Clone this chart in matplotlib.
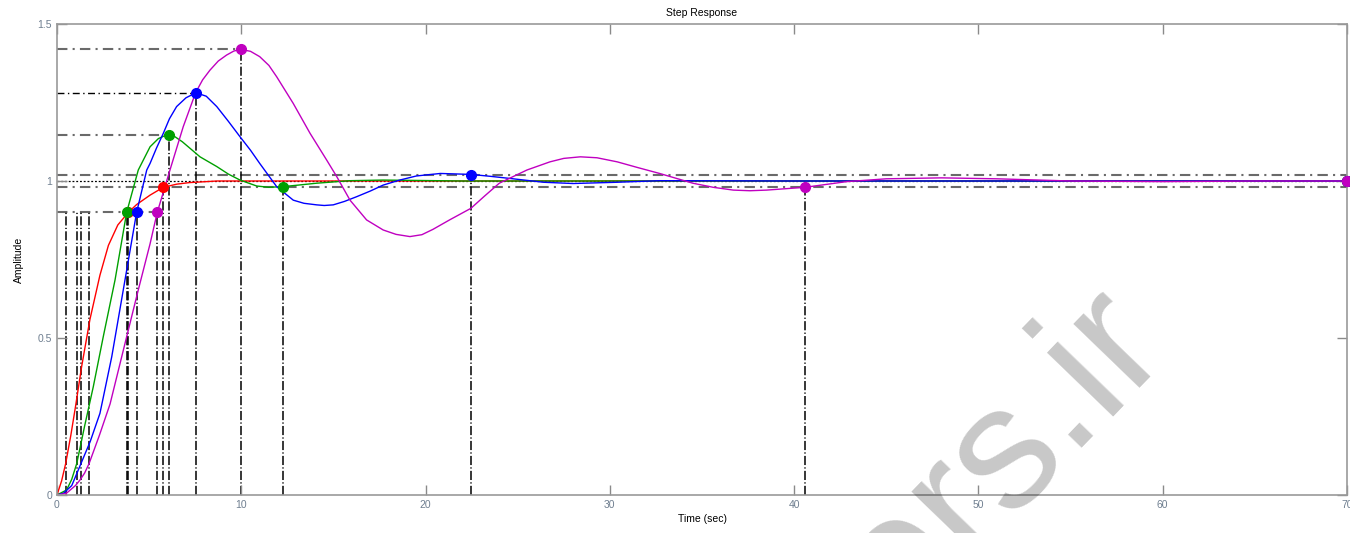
import matplotlib
matplotlib.use('Agg')
import matplotlib.pyplot as plt

plt.rcParams['font.family'] = ['Liberation Sans', 'DejaVu Sans']

# step response samples (time in sec, amplitude)
t_red = [0, 0.25, 0.47, 0.75, 1.0, 1.34, 1.79, 2.33, 2.79, 3.3, 3.87, 4.32, 5.05, 5.77, 6.5, 7.2, 8.7, 12, 20, 70]
y_red = [0, 0.045, 0.10, 0.19, 0.28, 0.41, 0.56, 0.70, 0.795, 0.86, 0.90, 0.925, 0.955, 0.98, 0.99, 0.995, 1.0, 1.0, 1.0, 1.0]

t_green = [0, 0.52, 0.8, 1.07, 1.5, 1.97, 2.51, 3.15, 3.78, 4.41, 5.05, 5.5, 5.8, 6.08, 6.4, 6.8, 7.3, 7.76, 8.67, 9.3, 9.93,
           10.84, 11.5, 12.25, 13.1, 14.09, 15.9, 17.7, 22, 70]
y_green = [0, 0.016, 0.05, 0.10, 0.22, 0.345, 0.504, 0.685, 0.90, 1.035, 1.109, 1.135, 1.143, 1.146, 1.141, 1.125, 1.10, 1.077, 1.046, 1.022, 1.003,
           0.984, 0.980, 0.982, 0.987, 0.993, 1.001, 1.003, 1.0, 1.0]

t_blue = [0, 0.34, 0.8, 1.3, 1.8, 2.33, 2.97, 3.69, 4.32, 4.87, 5.05, 5.4, 5.77, 6.1, 6.49, 7.0, 7.54, 8.1, 8.67, 9.3, 9.93, 10.5, 11.0,
          11.92, 12.82, 13.4, 14.09, 14.5, 14.99, 15.6, 16.26, 17.0, 17.7, 18.6, 19.5, 20.8, 22.46, 23.5, 24.6, 26.4, 28.0, 30.4, 32.7, 40, 70]
y_blue = [0, 0.005, 0.03, 0.10, 0.17, 0.26, 0.44, 0.685, 0.90, 1.035, 1.056, 1.105, 1.152, 1.198, 1.237, 1.265, 1.281, 1.27, 1.237, 1.19, 1.141, 1.098, 1.056,
          0.982, 0.939, 0.929, 0.924, 0.922, 0.924, 0.935, 0.95, 0.968, 0.987, 1.003, 1.016, 1.024, 1.021, 1.015, 1.008, 0.996, 0.992, 0.996, 1.001, 1.0, 1.0]

t_mag = [0, 0.5, 1.0, 1.25, 1.5, 1.74, 2.3, 2.88, 3.3, 3.78, 4.41, 5.05, 5.44, 6.13, 6.85, 7.52, 7.9, 8.3, 8.75, 9.2, 9.6, 9.98, 10.5,
         11.0, 11.5, 11.92, 12.82, 13.73, 14.63, 15.18, 15.9, 16.8, 17.7, 18.4, 19.15, 19.8, 20.4, 21.3, 22.46, 23.2, 24.0, 25.5,
         26.75, 27.5, 28.4, 29.3, 30.4, 31.5, 32.7, 34.5, 35.6, 36.7, 37.6, 38.5, 40.6, 42.85, 45, 48, 51, 55, 60, 65, 70]
y_mag = [0, 0.005, 0.03, 0.048, 0.07, 0.10, 0.19, 0.29, 0.39, 0.504, 0.653, 0.80, 0.90, 1.035, 1.173, 1.281, 1.322, 1.353, 1.382, 1.401, 1.414, 1.419, 1.413,
         1.396, 1.368, 1.332, 1.247, 1.152, 1.067, 1.014, 0.939, 0.876, 0.844, 0.83, 0.823, 0.829, 0.846, 0.876, 0.913, 0.952, 0.993, 1.035,
         1.061, 1.072, 1.077, 1.074, 1.061, 1.043, 1.024, 0.993, 0.98, 0.971, 0.969, 0.971, 0.98, 0.998, 1.007, 1.01, 1.007, 1.0, 0.998, 1.0, 1.0]

colors = ['#ff0000', '#00a000', '#0000ff', '#c000c0']
curves = [(t_red, y_red), (t_green, y_green), (t_blue, y_blue), (t_mag, y_mag)]

# characteristics: 10% time, 90% time, peak (t, y) or None, settling (t, y)
rise_lo = [0.47, 1.07, 1.30, 1.74]
rise_hi = [3.87, 3.78, 4.32, 5.44]
peaks = [None, (6.08, 1.146), (7.54, 1.281), (9.98, 1.419)]
settle = [(5.77, 0.98), (12.28, 0.98), (22.46, 1.02), (40.6, 0.98)]
final_t, final_y = 70, 1.0

fig = plt.figure(figsize=(13.5, 5.33), dpi=100)
ax = fig.add_axes([57/1350., 1 - 495/533., 1290/1350., 471/533.])

dd = (0, (6, 1.5, 0.8, 1.5))
hd = (0, (5, 2.5, 1, 2.5))
gray = '#6a6a6a'

# reference lines
ax.axhline(1.0, color='k', lw=0.9, ls=(0, (1.5, 1.5)), zorder=1)
for lev in [0.98, 1.02]:
    ax.axhline(lev, color=gray, lw=1.5, ls=hd, zorder=1)
ax.plot([0, max(rise_hi)], [0.9, 0.9], color=gray, lw=1.5, ls=hd, zorder=1)
for i in range(4):
    ax.plot([rise_lo[i], rise_lo[i]], [0, 0.9], color='k', lw=1.1, ls=dd, zorder=1)
    ax.plot([rise_hi[i], rise_hi[i]], [0, 0.9], color='k', lw=1.1, ls=dd, zorder=1)
    st, sy = settle[i]
    ax.plot([st, st], [0, sy], color='k', lw=1.1, ls=dd, zorder=1)
    if peaks[i] is not None:
        pt, py = peaks[i]
        hc = 'k' if i == 2 else gray
        hw = 1.0 if i == 2 else 1.5
        ax.plot([0, pt], [py, py], color=hc, lw=hw, ls=hd, zorder=1)
        ax.plot([pt, pt], [0, py], color='k', lw=1.1, ls=dd, zorder=1)

# responses
for (t, y), c in zip(curves, colors):
    ax.plot(t, y, color=c, lw=1.0, zorder=2)

# characteristic markers
for i, c in enumerate(colors):
    ax.plot(rise_hi[i], 0.9, 'o', color=c, ms=7, mec=c, zorder=3)
    ax.plot(settle[i][0], settle[i][1], 'o', color=c, ms=7, mec=c, zorder=3)
    if peaks[i] is not None:
        ax.plot(peaks[i][0], peaks[i][1], 'o', color=c, ms=7, mec=c, zorder=3)
    ax.plot(final_t, final_y, 'o', color=c, ms=7, mec=c, zorder=3, clip_on=False)

ax.set_xlim(0, 70)
ax.set_ylim(0, 1.5)
ax.set_xticks(range(0, 71, 10))
ax.set_yticks([0, 0.5, 1, 1.5])
ax.set_yticklabels(['0', '0.5', '1', '1.5'])
ax.tick_params(direction='in', length=7, width=1, colors='#8a8a8a', labelcolor='#6f7f90',
               labelsize=7.5, top=True, right=True)
for s in ax.spines.values():
    s.set_color('#9a9a9a')
    s.set_linewidth(1.2)

ax.set_title('Step Response', fontsize=7.5, pad=6)
ax.set_xlabel('Time (sec)', fontsize=7.5, labelpad=3)
ax.set_ylabel('Amplitude', fontsize=7.5, labelpad=10)

# watermark
fig.text(0.866, 0.352, 'papers.ir', rotation=46, rotation_mode='anchor', ha='right', va='baseline',
         fontsize=126, color='k', alpha=0.22, zorder=10)

plt.savefig('out.png', dpi=100)
